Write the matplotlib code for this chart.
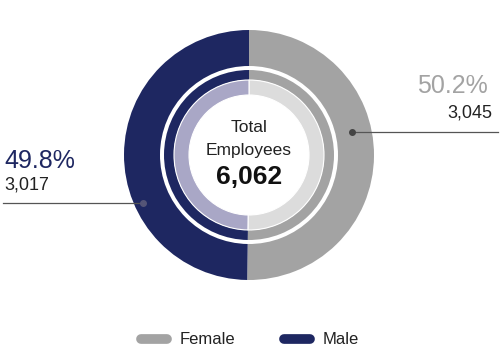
import matplotlib.pyplot as plt
from matplotlib.lines import Line2D

plt.rcParams['font.family'] = ['Liberation Sans', 'DejaVu Sans']

labels = ['Female', 'Male']
counts = [3045, 3017]
pcts = ['50.2%', '49.8%']
total = '6,062'

dark = ['#a3a3a3', '#1e2761']
light = ['#dcdcdc', '#a9a7c6']

fig = plt.figure(figsize=(5, 3.55), dpi=100)
ax = fig.add_axes([0, 0, 1, 1])

cx, cy = 249, 355 - 155
# outer ring
ax.pie(counts, radius=125, center=(cx, cy), startangle=90, counterclock=False,
       colors=dark, wedgeprops=dict(width=36, linewidth=0))
# thin inner ring
ax.pie(counts, radius=85, center=(cx, cy), startangle=90, counterclock=False,
       colors=dark, wedgeprops=dict(width=10, linewidth=0))
# light inner band
ax.pie(counts, radius=75, center=(cx, cy), startangle=90, counterclock=False,
       colors=light, wedgeprops=dict(width=15, edgecolor='white', linewidth=0.8))

ax.set_xlim(0, 500)
ax.set_ylim(0, 355)
ax.set_aspect('equal')
ax.axis('off')

# centre text
ax.text(cx, 355 - 128, 'Total', ha='center', va='center', fontsize=12.5, color='#222222')
ax.text(cx, 355 - 150, 'Employees', ha='center', va='center', fontsize=12.5, color='#222222')
ax.text(cx, 355 - 177.5, total, ha='center', va='center', fontsize=19, fontweight='bold', color='#111111')

# callouts
ax.plot([352, 498], [355 - 132, 355 - 132], color='#555555', lw=0.9)
ax.plot([352], [355 - 132], 'o', color='#444444', ms=4)
ax.text(488, 355 - 93, pcts[0], ha='right', va='baseline', fontsize=18, color=dark[0])
ax.text(492, 355 - 117, f'{counts[0]:,}', ha='right', va='baseline', fontsize=13, color='#222222')

ax.plot([3, 143], [355 - 203, 355 - 203], color='#555555', lw=0.9)
ax.plot([143], [355 - 203], 'o', color='#555577', ms=4)
ax.text(4, 355 - 168, pcts[1], ha='left', va='baseline', fontsize=18, color=dark[1])
ax.text(4, 355 - 190, f'{counts[1]:,}', ha='left', va='baseline', fontsize=13, color='#222222')

handles = [Line2D([], [], color=c, lw=7, solid_capstyle='round') for c in dark]
ax.legend(handles, labels, loc='center', bbox_to_anchor=(0.5, 15 / 355), ncol=2,
          frameon=False, fontsize=12, handlelength=1.55, columnspacing=2.9,
          handletextpad=0.8, labelcolor='#222222')

fig.savefig('out.png', dpi=100)
